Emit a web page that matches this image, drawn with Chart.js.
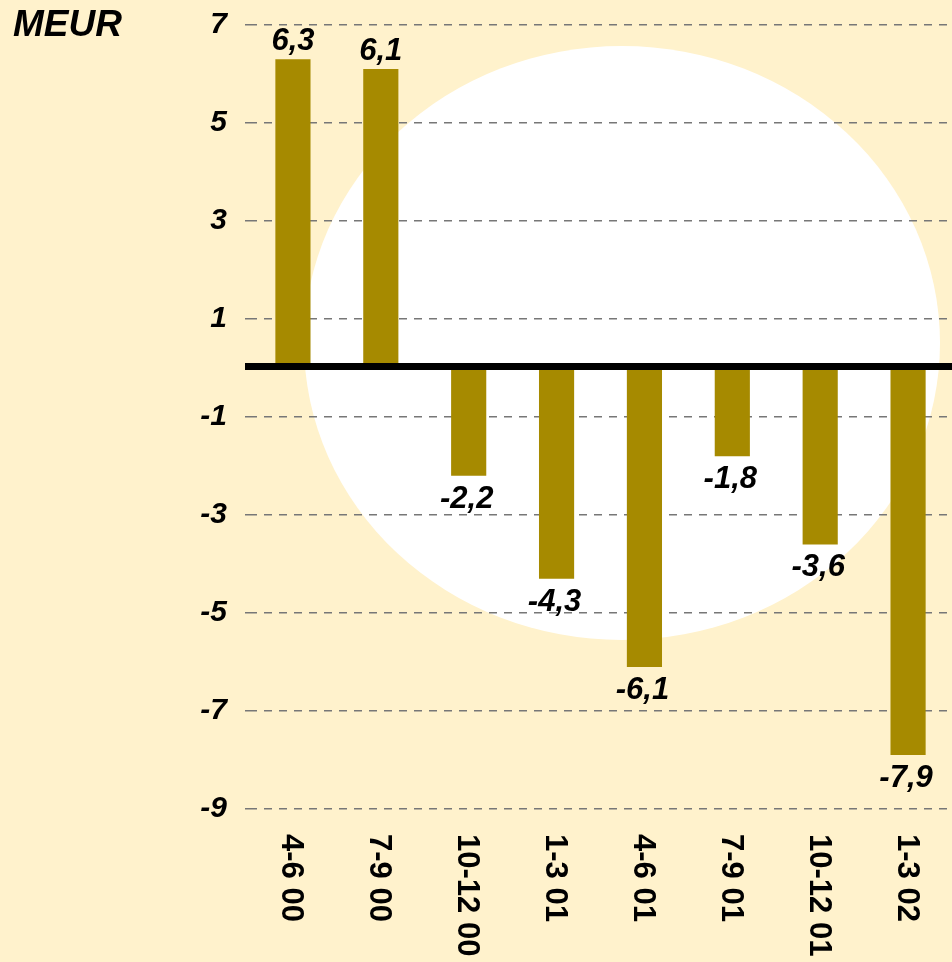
<!DOCTYPE html>
<html>
<head>
<meta charset="utf-8">
<script src="https://cdn.jsdelivr.net/npm/chart.js@4/dist/chart.umd.min.js"></script>
<style>
  html, body { margin: 0; padding: 0; background: #FFF2CC; }
  #wrap { width: 952px; height: 962px; }
</style>
</head>
<body>
<div id="wrap"><canvas id="chart" width="952" height="962"></canvas></div>
<script>
const quarters = ['4-6 00', '7-9 00', '10-12 00', '1-3 01', '4-6 01', '7-9 01', '10-12 01', '1-3 02'];
const results = [6.3, 6.1, -2.2, -4.3, -6.1, -1.8, -3.6, -7.9];
const yTicks = [7, 5, 3, 1, -1, -3, -5, -7, -9];
const unitLabel = 'MEUR';

const FONT = '"Liberation Sans", Arial, sans-serif';
const barColor = '#A68A00';

const backdrop = {
  id: 'backdrop',
  beforeDraw(chart) {
    const c = chart.ctx;
    c.save();
    c.fillStyle = '#FFF2CC';
    c.fillRect(0, 0, chart.width, chart.height);
    c.fillStyle = '#FFFFFF';
    c.beginPath();
    c.ellipse(622, 343, 318, 297, 0, 0, Math.PI * 2);
    c.fill();
    c.restore();
  }
};

const extras = {
  id: 'extras',
  afterDatasetsDraw(chart) {
    const c = chart.ctx;
    const x = chart.scales.x, y = chart.scales.y;
    const area = chart.chartArea;
    c.save();
    // zero line
    const y0 = y.getPixelForValue(0);
    c.fillStyle = '#000';
    c.fillRect(245, y0 - 5, chart.width - 245, 7);

    // value labels
    c.font = 'italic bold 31px ' + FONT;
    c.textAlign = 'center';
    chart.getDatasetMeta(0).data.forEach((bar, i) => {
      const v = results[i];
      const txt = v.toFixed(1).replace('.', ',');
      if (v >= 0) {
        c.textBaseline = 'bottom';
        c.fillText(txt, bar.x, bar.y - 2);
      } else {
        c.textBaseline = 'top';
        c.fillText(txt, bar.x - 2, bar.y + 8);
      }
    });

    // category labels, rotated to read top-down
    c.font = 'bold 31px ' + FONT;
    c.textAlign = 'left';
    c.textBaseline = 'middle';
    quarters.forEach((q, i) => {
      const cx = x.getPixelForValue(i);
      c.save();
      c.translate(cx - 2, area.bottom + 25);
      c.rotate(Math.PI / 2);
      c.fillText(q, 0, 0);
      c.restore();
    });

    // unit label
    c.font = 'italic bold 37px ' + FONT;
    c.textAlign = 'left';
    c.textBaseline = 'middle';
    c.fillText(unitLabel, 13, 26);
    c.restore();
  }
};

new Chart(document.getElementById('chart'), {
  type: 'bar',
  data: {
    labels: quarters,
    datasets: [{
      data: results,
      backgroundColor: barColor,
      borderWidth: 0,
      barPercentage: 0.4,
      categoryPercentage: 1
    }]
  },
  options: {
    responsive: false,
    animation: false,
    events: [],
    layout: { padding: { top: 25, right: 0, left: 0, bottom: 0 } },
    plugins: { legend: { display: false }, tooltip: { enabled: false } },
    scales: {
      x: {
        ticks: { display: false },
        grid: { display: false },
        border: { display: false },
        afterFit(scale) { scale.height = 153; scale.paddingLeft = 0; scale.paddingRight = 0; }
      },
      y: {
        min: -9,
        max: 7,
        afterBuildTicks(scale) { scale.ticks = yTicks.map(v => ({ value: v })); },
        ticks: {
          color: '#000',
          padding: 18,
          font: { family: FONT, size: 30, weight: 'bold', style: 'italic' },
          callback: v => String(v)
        },
        grid: {
          color: '#777',
          lineWidth: 1.5,
          tickLength: 4,
          tickColor: '#777',
          tickBorderDash: [8, 7]
        },
        border: { display: false, dash: [8, 7] },
        afterFit(scale) { scale.width = 249; scale.paddingTop = 0; scale.paddingBottom = 0; }
      }
    }
  },
  plugins: [backdrop, extras]
});
</script>
</body>
</html>
